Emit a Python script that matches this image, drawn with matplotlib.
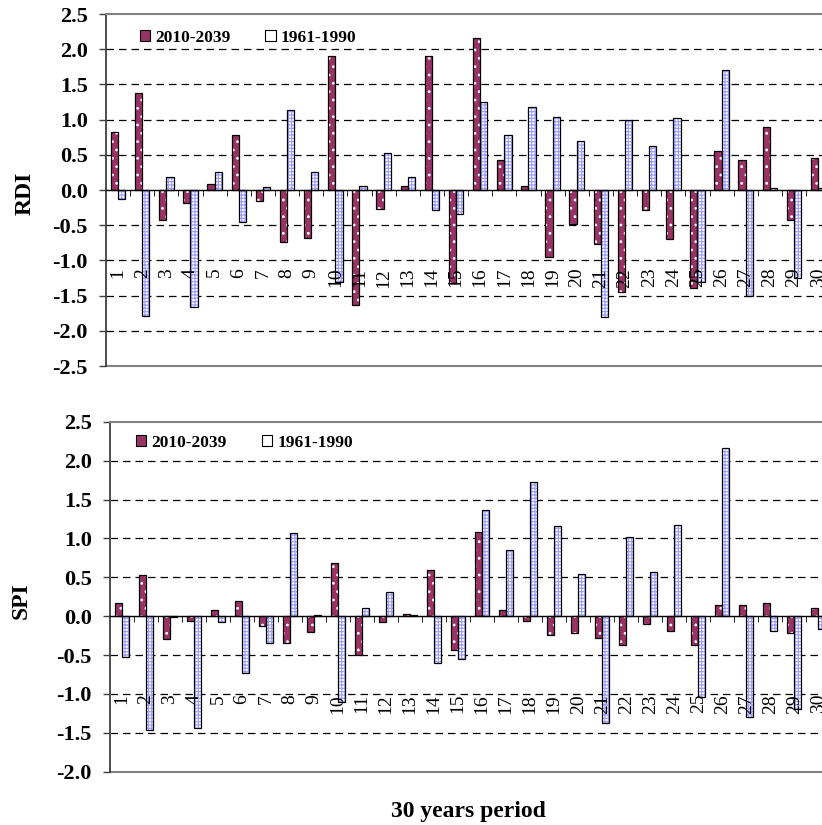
import matplotlib

matplotlib.use("Agg")

import matplotlib.pyplot as plt
import numpy as np
from matplotlib.patches import Patch

# 30 consecutive 30-year periods
periods = list(range(1, 31))
series_labels = ["2010-2039", "1961-1990"]

rdi_future = [0.83, 1.38, -0.42, -0.18, 0.09, 0.78, -0.15, -0.74, -0.68, 1.91,
              -1.64, -0.27, 0.05, 1.90, -1.32, 2.16, 0.42, 0.05, -0.95, -0.49,
              -0.76, -1.45, -0.29, -0.70, -1.39, 0.55, 0.42, 0.90, -0.42, 0.45]
rdi_base = [-0.13, -1.79, 0.18, -1.66, 0.25, -0.46, 0.04, 1.13, 0.26, -1.31,
            0.05, 0.52, 0.18, -0.29, -0.34, 1.25, 0.78, 1.18, 1.03, 0.70,
            -1.80, 0.99, 0.62, 1.02, -1.31, 1.71, -1.51, 0.03, -1.25, 0.03]

spi_future = [0.165, 0.53, -0.29, -0.06, 0.075, 0.19, -0.12, -0.34, -0.20, 0.69,
              -0.50, -0.07, 0.03, 0.60, -0.44, 1.08, 0.075, -0.06, -0.24, -0.22,
              -0.28, -0.37, -0.10, -0.19, -0.37, 0.15, 0.15, 0.165, -0.22, 0.10]
spi_base = [-0.53, -1.47, -0.01, -1.44, -0.075, -0.73, -0.34, 1.07, 0.015, -1.10,
            0.10, 0.31, 0.015, -0.60, -0.55, 1.37, 0.85, 1.73, 1.16, 0.54,
            -1.38, 1.02, 0.57, 1.17, -1.04, 2.16, -1.30, -0.19, -1.20, -0.16]

RED = "#993366"
BLUE_HATCH = "#9a9aff"

plt.rcParams["font.family"] = ["Liberation Serif", "DejaVu Serif"]
plt.rcParams["axes.unicode_minus"] = False
plt.rcParams["hatch.linewidth"] = 0.8


def draw_panel(ax, future, base, ylabel, ymin, ymax, xmax, legend_anchor, label_x):
    x = np.arange(1, len(periods) + 1)
    w = 0.3
    # fill + hatch first, black outline on top
    ax.bar(x - w / 2, future, w, color=RED, edgecolor="white", hatch="..", linewidth=0, zorder=1)
    ax.bar(x - w / 2, future, w, fill=False, edgecolor="black", linewidth=0.9, zorder=1.2)
    ax.bar(x + w / 2, base, w, color="white", edgecolor=BLUE_HATCH, hatch="+++++", linewidth=0, zorder=1)
    ax.bar(x + w / 2, base, w, fill=False, edgecolor="black", linewidth=0.9, zorder=1.2)

    ax.set_xlim(0.5, xmax)
    ax.set_ylim(ymin, ymax)

    # spine position resets ticks, so do it before styling them
    ax.spines["bottom"].set_position(("data", 0))
    ax.spines["bottom"].set_color("black")
    ax.spines["bottom"].set_linewidth(1.0)
    ax.spines["right"].set_visible(False)
    ax.spines["top"].set_color("#808080")
    ax.spines["top"].set_linewidth(1.5)
    ax.spines["left"].set_color("#404040")
    ax.spines["left"].set_linewidth(1.3)
    ax.axhline(ymin, color="#808080", linewidth=1.5, clip_on=False, zorder=0.6)

    yticks = np.arange(ymin, ymax + 0.01, 0.5)
    ax.set_yticks(yticks, labels=[f"{v:.1f}" for v in yticks], fontweight="bold", fontsize=16)
    ax.tick_params(axis="y", direction="out", length=5, width=1, color="#404040", pad=8)
    for v in yticks:
        if abs(v) > 1e-9 and ymin < v < ymax:
            ax.axhline(v, color="black", linewidth=0.9, linestyle=(0, (6, 4)), zorder=0.5)

    ax.set_xticks(x, labels=[str(p) for p in periods], rotation=90, fontsize=14)
    ax.set_xticks(np.arange(1.5, len(periods), 1), minor=True)
    ax.tick_params(axis="x", which="major", length=0, pad=56)
    ax.tick_params(axis="x", which="minor", length=4, direction="out", color="black")

    ax.set_ylabel(ylabel, fontsize=17, fontweight="bold")
    ax.yaxis.set_label_coords(label_x, 0.49)

    handles = [
        Patch(facecolor=RED, edgecolor="black", linewidth=0.8),
        Patch(facecolor="white", edgecolor="black", linewidth=0.8),
    ]
    ax.legend(handles, series_labels, loc="center left", bbox_to_anchor=legend_anchor,
              ncol=2, frameon=False, borderpad=0, borderaxespad=0,
              handlelength=0.6, handleheight=0.6, handletextpad=0.3, columnspacing=2.0,
              prop={"weight": "bold", "size": 12.5})


fig = plt.figure(figsize=(8.22, 8.25), dpi=100)
ax_rdi = fig.add_axes([106 / 822, 1 - 366 / 825, 716 / 822, 352 / 825])
ax_spi = fig.add_axes([110 / 822, 1 - 771.7 / 825, 712 / 822, 349.9 / 825])

draw_panel(ax_rdi, rdi_future, rdi_base, "RDI", -2.5, 2.5, 0.5 + 716 / 24.14, (0.047, 0.932), -0.098)
draw_panel(ax_spi, spi_future, spi_base, "SPI", -2.0, 2.5, 0.5 + 712 / 24.01, (0.0365, 0.94), -0.11)

fig.text(468 / 822, 1 - 812 / 825, "30 years period", ha="center", va="center",
         fontsize=17, fontweight="bold")

fig.savefig("out.png", dpi=100)
plt.close(fig)
